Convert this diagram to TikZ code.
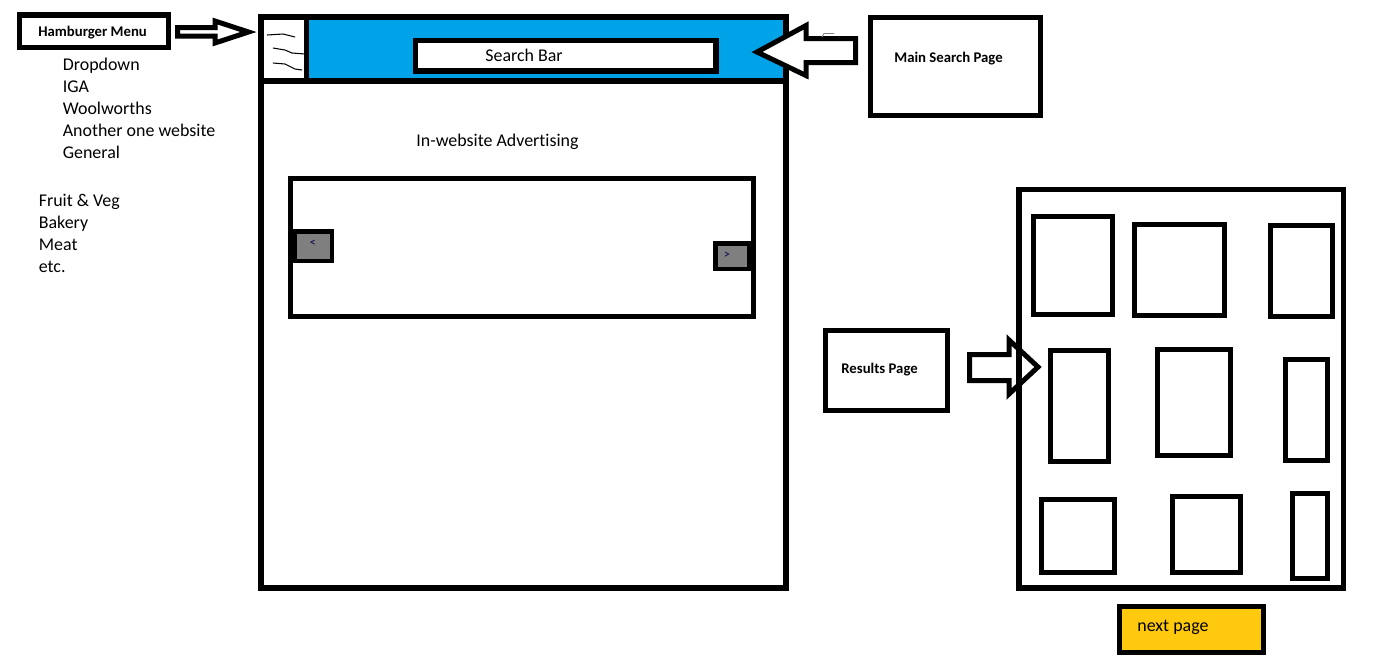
\documentclass[tikz,border=0pt]{standalone}
\usepackage{fontspec}
\setmainfont{Carlito}[Ligatures=NoCommon]
\usepackage{xcolor}
\usetikzlibrary{positioning}

\definecolor{headerblue}{HTML}{00A2E8}
\definecolor{pageyellow}{HTML}{FFC90E}
\definecolor{btngray}{HTML}{7F7F7F}

\tikzset{
    box/.style={draw=black, line width=0.11cm},
    tile/.style={draw=black, line width=0.10cm},
    blockarrow/.style={draw=black, line width=0.10cm, line join=miter},
    plaintext/.style={anchor=base west, inner sep=0pt, font=\fontsize{10.2}{12}\selectfont},
    boldtext/.style={anchor=base west, inner sep=0pt, font=\fontsize{8.4}{10}\selectfont\bfseries},
    glyph/.style={inner sep=0pt, font=\fontsize{7}{8}\selectfont, text=black!70!blue}
}

\begin{document}
\begin{tikzpicture}[x=0.02cm, y=-0.02cm]
    \useasboundingbox[fill=white] (0,0) rectangle (1385,667);

    % Hamburger menu label and dropdown list
    \draw[box] (19.5,15) rectangle (168.5,47.5);
    \node[boldtext] (hmenu) at (38,36) {Hamburger Menu};
    \foreach \t [count=\i] in {Dropdown, IGA, Woolworths, Another one website, General} {
        \node[plaintext] (dd\i) at (62.5,{70+22*(\i-1)}) {\t};
    }
    \foreach \t [count=\i] in {Fruit \& Veg, Bakery, Meat, etc.} {
        \node[plaintext] (cat\i) at (38.5,{206+22*(\i-1)}) {\t};
    }
    \draw[blockarrow] (177.5,27.5) -- (215,27.5) -- (215,21) -- (248.5,32)
        -- (215,43) -- (215,36) -- (177.5,36) -- cycle;

    % Main page
    \fill[headerblue] (306.5,16.5) rectangle (785.5,80.5);
    \draw[line width=0.12cm] (260.5,16.5) rectangle (785.5,587.5);
    \draw[line width=0.12cm] (260.5,80.5) -- (785.5,80.5);
    \draw[line width=0.11cm] (306.5,16.5) -- (306.5,80.5);
    \draw[line width=0.6pt] (267,35) -- (283,34) -- (295,37);
    \draw[line width=0.6pt] (273,48) -- (285,50) -- (292,53) -- (305,54);
    \draw[line width=0.6pt] (273,63) -- (285,64) -- (295,69) -- (302,70);

    \draw[box, fill=white] (415.5,40.5) rectangle (716,71);
    \node[plaintext] (search) at (485,61) {Search Bar};
    \node[plaintext] (advert) at (416,146) {In-website Advertising};

    % Carousel
    \draw[line width=0.10cm] (290.5,178.5) rectangle (753.5,316);
    \draw[line width=0.09cm, fill=btngray] (295,231.5) rectangle (332,261);
    \draw[line width=0.09cm, fill=btngray] (715.5,243.5) rectangle (749,269);
    \node[glyph] (prev) at (313,243) {<};
    \node[glyph] (next) at (727,255) {>};

    % Main search page label
    \draw[blockarrow, fill=white] (757,52) -- (806,25.5) -- (806,38.5) -- (855.5,38.5)
        -- (855.5,62.5) -- (806,62.5) -- (806,75.5) -- cycle;
    \draw[gray, line width=0.5pt] (822,37) -- (824,33.5) -- (834,33.5);
    \draw[box] (870.5,17.5) rectangle (1040.5,115.5);
    \node[boldtext] (mainpage) at (894,62) {Main Search Page};

    % Results page label
    \draw[box] (825.5,330.5) rectangle (947.5,410.5);
    \node[boldtext] (results) at (841,373) {Results Page};
    \draw[blockarrow] (969.5,354.5) -- (1009,354.5) -- (1009,340) -- (1038,367)
        -- (1009,394) -- (1009,380.5) -- (969.5,380.5) -- cycle;

    % Results grid
    \draw[box] (1019,189.5) rectangle (1343.5,588);
    \foreach \a/\b/\c/\d in {1033/216/1112/314, 1134/224/1224/315, 1270/225/1332/316,
                             1050/350/1108/461, 1157/349/1230/455, 1285/359/1327/460,
                             1041/499/1114/572, 1172/496/1240/572, 1292/493/1327/578} {
        \draw[tile] (\a,\b) rectangle (\c,\d);
    }

    % Next page button
    \draw[box, fill=pageyellow] (1119.5,606.5) rectangle (1263.5,652.5);
    \node[plaintext] (nextpage) at (1137,631) {next page};
\end{tikzpicture}
\end{document}
